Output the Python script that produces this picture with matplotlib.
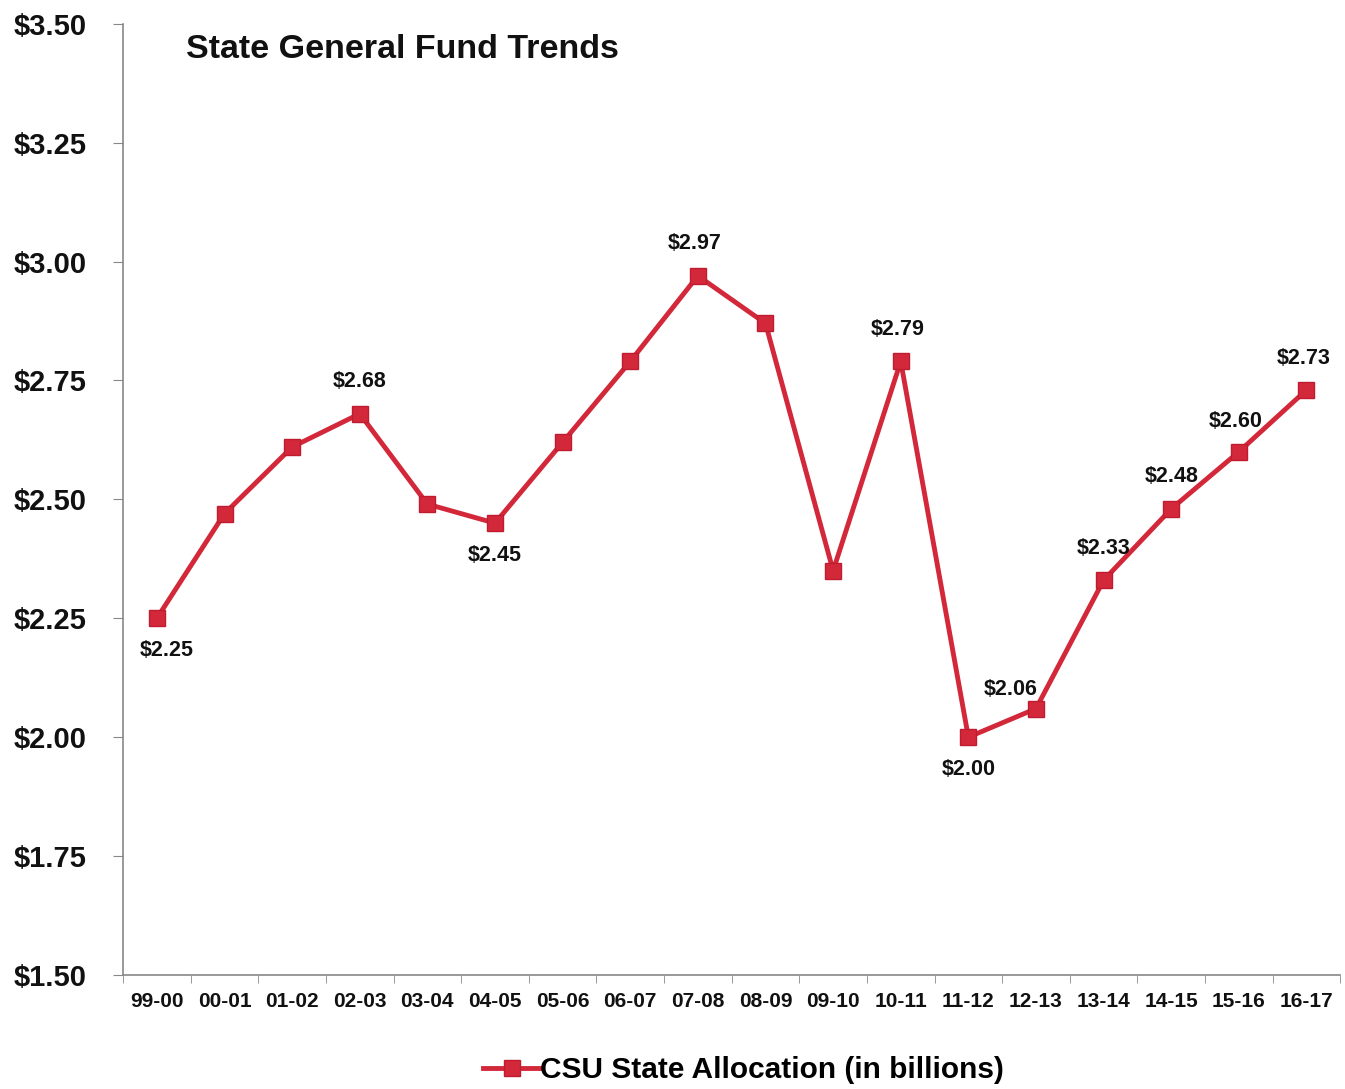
import matplotlib.pyplot as plt
import numpy as np
from matplotlib.ticker import FixedLocator, FuncFormatter

plt.rcParams['font.family'] = ['Liberation Sans', 'DejaVu Sans']

# fiscal years and CSU state allocation (billions of dollars)
years = ['99-00', '00-01', '01-02', '02-03', '03-04', '04-05', '05-06', '06-07', '07-08',
         '08-09', '09-10', '10-11', '11-12', '12-13', '13-14', '14-15', '15-16', '16-17']
allocation = [2.25, 2.47, 2.61, 2.68, 2.49, 2.45, 2.62, 2.79, 2.97,
              2.87, 2.35, 2.79, 2.00, 2.06, 2.33, 2.48, 2.60, 2.73]
# which points get a value label, and the label offset in points
label_off = {0: (7, -23), 3: (0, 23), 5: (0, -23), 8: (-2, 23), 11: (-2, 23), 12: (0, -23),
             13: (-18, 14), 14: (0, 23), 15: (0, 23), 16: (-2, 22), 17: (-2, 23)}

red = '#d3283a'

fig = plt.figure(figsize=(13.45, 10.89), dpi=100)
ax = fig.add_axes([0.0915, 0.1047, 0.905, 0.8735])

x = np.arange(len(years))
ax.plot(x, allocation, color=red, lw=3.5, marker='s', ms=11,
        markerfacecolor=red, markeredgecolor='#c01c30', label='CSU State Allocation (in billions)')

for i, off in label_off.items():
    ax.annotate('$%.2f' % allocation[i], (x[i], allocation[i]),
                xytext=off, textcoords='offset points',
                ha='center', va='center', fontsize=15.5, fontweight='bold', color='#111111')

ax.set_xlim(-0.5, len(years) - 0.5)
ax.set_ylim(1.5, 3.5)
ax.set_yticks(np.arange(1.5, 3.51, 0.25))
ax.yaxis.set_major_formatter(FuncFormatter(lambda v, p: '$%.2f' % v))
ax.set_xticks(x)
ax.set_xticklabels(years)
ax.xaxis.set_minor_locator(FixedLocator(np.arange(-0.5, len(years), 1.0)))

ax.tick_params(axis='x', which='major', length=0, pad=12, labelsize=15)
ax.tick_params(axis='x', which='minor', length=6, color='#888888')
ax.tick_params(axis='y', length=7, color='#888888', pad=19, labelsize=21)
for lab in ax.get_xticklabels() + ax.get_yticklabels():
    lab.set_fontweight('bold')
    lab.set_color('#111111')

for s in ['top', 'right']:
    ax.spines[s].set_visible(False)
for s in ['left', 'bottom']:
    ax.spines[s].set_color('#888888')
    ax.spines[s].set_linewidth(1.2)

ax.text(0.052, 0.973, 'State General Fund Trends', transform=ax.transAxes,
        fontsize=24.5, fontweight='bold', color='#111111', va='center', ha='left')

fig.legend(loc='center', bbox_to_anchor=(0.553, 0.017), frameon=False,
           prop={'size': 21.5, 'weight': 'bold'}, handlelength=1.9, handletextpad=0.0)

fig.savefig('out.png', dpi=100)
